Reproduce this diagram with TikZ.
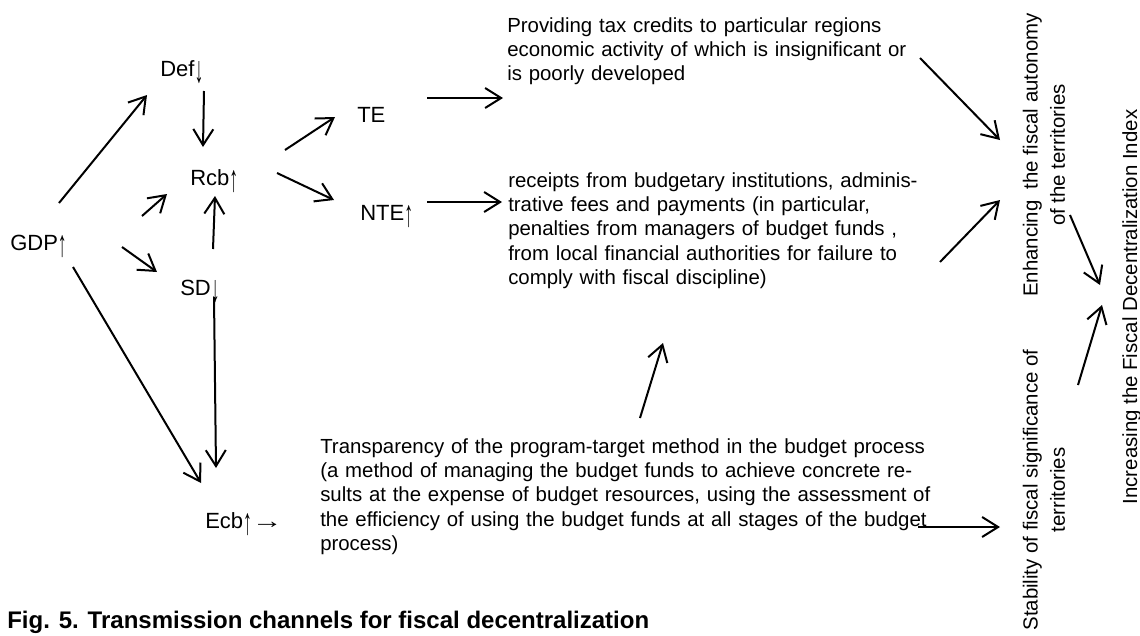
\documentclass[tikz,border=0pt]{standalone}
\usepackage{fontspec}
\usepackage{graphicx}
\setmainfont{Liberation Sans}
\newfontfamily\arrfont{Liberation Serif}
\usetikzlibrary{arrows.meta}
\newcommand\uarr{\raisebox{-4.5pt}{\scalebox{0.8}[1.7]{\arrfont ↑}}}
\newcommand\darr{\raisebox{-4.5pt}{\scalebox{0.8}[1.7]{\arrfont ↓}}}
\newcommand\rarr{\scalebox{1.4}[1]{\arrfont →}}
\newcommand\jl[1]{\makebox[\linewidth][s]{#1}\\}
\begin{document}
\begin{tikzpicture}[x=0.75pt,y=-0.75pt,
  lbl/.style={anchor=base west,inner sep=0pt,font=\fontsize{16.5pt}{19pt}\selectfont},
  body/.style={anchor=base west,inner sep=0pt,align=left,font=\fontsize{15.3pt}{18.3pt}\selectfont},
  rot/.style={rotate=90,inner sep=0pt,align=center,font=\fontsize{15.3pt}{20.5pt}\selectfont},
  arr/.style={-{Straight Barb[length=12pt,width=15pt]},line width=1.5pt}]
\useasboundingbox (0,0) rectangle (1140,636);

% labels
\node[lbl] (gdp) at (10,250) {GDP\uarr};
\node[lbl] (def) at (160,76) {Def\darr};
\node[lbl] (rcb) at (190,185) {Rcb\uarr};
\node[lbl] (sd) at (180,295) {SD\darr};
\node[lbl] (te) at (357,122) {TE};
\node[lbl] (nte) at (360,220) {NTE\uarr};
\node[lbl] (ecb) at (205,528) {Ecb\uarr\rarr};

% text blocks
\node[body,text width=309.75pt] (prov) at (507,32) {%
\jl{Providing tax credits to particular regions}
\jl{economic activity of which is insignificant or}
is poorly developed};
\node[body,text width=309.75pt] (rec) at (508,187) {%
\jl{receipts from budgetary institutions, adminis-}
\jl{trative fees and payments (in particular,}
\jl{penalties from managers of budget funds ,}
\jl{from local financial authorities for failure to}
comply with fiscal discipline)};
\node[body,text width=450pt] (tra) at (320,453) {%
\jl{Transparency of the program-target method in the budget process}
\jl{(a method of managing the budget funds to achieve concrete re-}
\jl{sults at the expense of budget resources, using the assessment of}
\jl{the efficiency of using the budget funds at all stages of the budget}
process)};

% rotated texts
\node[rot] (enh) at (1044,155) {Enhancing\ \ the fiscal autonomy\\of the territories};
\node[rot] (stab) at (1044,490) {Stability of fiscal significance of\\territories};
\node[rot,anchor=base] (inc) at (1137,307) {Increasing the Fiscal Decentralization Index};

% caption
\node[anchor=base west,inner sep=0pt,font=\fontsize{18pt}{20pt}\selectfont\bfseries] (cap) at (7,628)
  {Fig. 5. Transmission channels for fiscal decentralization};

% connector end points
\coordinate (a1s) at (59,203);   \coordinate (a1e) at (147,95);
\coordinate (a2s) at (204,91);   \coordinate (a2e) at (203,147);
\coordinate (a3s) at (142,216);  \coordinate (a3e) at (167,194);
\coordinate (a4s) at (213,249);  \coordinate (a4e) at (215,196);
\coordinate (a5s) at (122,247);  \coordinate (a5e) at (157,272);
\coordinate (a6s) at (73,267);   \coordinate (a6e) at (201,483);
\coordinate (a7s) at (214,297);  \coordinate (a7e) at (216,468);
\coordinate (a8s) at (285,150);  \coordinate (a8e) at (335,117);
\coordinate (a9s) at (277,173);  \coordinate (a9e) at (334,200);
\coordinate (a10s) at (427,98);  \coordinate (a10e) at (503,98);
\coordinate (a11s) at (427,202); \coordinate (a11e) at (502,202);
\coordinate (a12s) at (640,418); \coordinate (a12e) at (663,343);
\coordinate (a13s) at (920,58);  \coordinate (a13e) at (1000,140);
\coordinate (a14s) at (940,262); \coordinate (a14e) at (1000,200);
\coordinate (a15s) at (1070,215);\coordinate (a15e) at (1100,285);
\coordinate (a16s) at (1078,385);\coordinate (a16e) at (1102,305);
\coordinate (a17s) at (918,527); \coordinate (a17e) at (1000,527);

\foreach \i in {1,...,17} {\draw[arr] (a\i s) -- (a\i e);}
\end{tikzpicture}
\end{document}
